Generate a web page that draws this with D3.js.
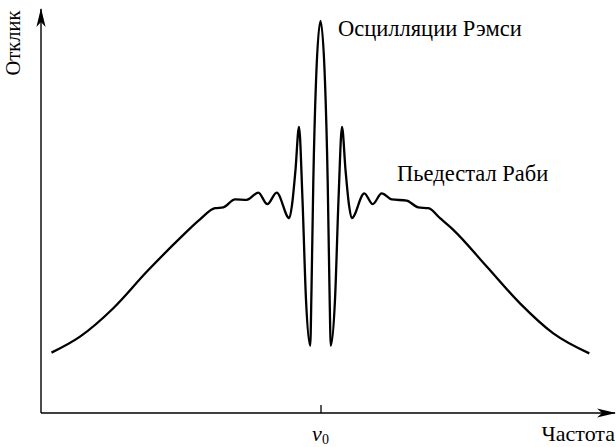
<!DOCTYPE html>
<html>
<head>
<meta charset="utf-8">
<script src="https://cdn.jsdelivr.net/npm/d3@7"></script>
<style>
  body { margin: 0; background: #fff; }
</style>
</head>
<body>
<div id="viz"></div>
<script>
const w = 616;
const h = 447;
const serif = '"Liberation Serif", "Times New Roman", Times, "DejaVu Serif", serif';

// detuning from nu0 (arbitrary units) and response
const detuning = [-2.69, -2.405, -2.072, -1.738, -1.405, -1.205, -1.055, -0.972, -0.855, -0.738,
  -0.622, -0.532, -0.438, -0.312, -0.285, -0.25, -0.215, -0.18, -0.145, -0.103,
  -0.09, -0.072, -0.045, 0, 0.045, 0.072, 0.09, 0.103,
  0.145, 0.18, 0.215, 0.25, 0.285, 0.312, 0.438, 0.522, 0.612, 0.712,
  0.862, 0.978, 1.078, 1.195, 1.328, 1.662, 1.995, 2.328, 2.688];
const response = [0.151, 0.191, 0.262, 0.353, 0.437, 0.484, 0.512, 0.514, 0.534, 0.533,
  0.551, 0.522, 0.551, 0.487, 0.52, 0.608, 0.715, 0.533, 0.283, 0.168,
  0.308, 0.578, 0.828, 0.98, 0.828, 0.578, 0.308, 0.168,
  0.283, 0.533, 0.715, 0.608, 0.52, 0.487, 0.549, 0.522, 0.549, 0.534,
  0.531, 0.514, 0.512, 0.487, 0.458, 0.366, 0.274, 0.199, 0.149];

const ticks = [0];
const labels = ['Осцилляции Рэмси', 'Пьедестал Раби'];

const svg = d3.select('#viz').append('svg')
    .attr('width', w)
    .attr('height', h)
    .style('font-family', serif)

const x = d3.scaleLinear().domain([-2.795, 2.945]).range([41, 615]);
const y = d3.scaleLinear().domain([0, 1]).range([413, 13]);

// arrow marker for the axes
svg.append('defs').append('marker')
    .attr('id', 'arrow')
    .attr('viewBox', '0 0 19 10')
    .attr('refX', 18)
    .attr('refY', 5)
    .attr('markerWidth', 19)
    .attr('markerHeight', 10)
    .attr('markerUnits', 'userSpaceOnUse')
    .attr('orient', 'auto')
    .append('path')
    .attr('d', 'M0,0.4L19,5L0,9.6L5,5Z')
    .attr('fill', '#000')

svg.append('line')
    .attr('x1', x.range()[0]).attr('y1', y.range()[0])
    .attr('x2', x.range()[1]).attr('y2', y.range()[0])
    .attr('stroke', '#000').attr('stroke-width', 1.4)
    .attr('marker-end', 'url(#arrow)')

svg.append('line')
    .attr('x1', x.range()[0]).attr('y1', y.range()[0])
    .attr('x2', x.range()[0]).attr('y2', 9)
    .attr('stroke', '#000').attr('stroke-width', 1.4)
    .attr('marker-end', 'url(#arrow)')

// single tick at nu0
const xAxis = svg.append('g')
    .attr('transform', `translate(0,${y.range()[0]})`)
    .call(d3.axisBottom(x).tickValues(ticks).tickSize(-8).tickFormat(''))
xAxis.select('.domain').remove()
xAxis.selectAll('.tick line').attr('stroke-width', 1.3)

const nu = svg.append('text')
    .attr('x', x(0))
    .attr('y', 441)
    .attr('text-anchor', 'middle')
    .attr('font-family', serif)
    .style('font-size', '22px')
nu.append('tspan').text('ν').style('font-style', 'italic')
nu.append('tspan').text('0').attr('dy', 3).style('font-size', '14px')

svg.append('text')
    .attr('x', 615)
    .attr('y', 441)
    .attr('text-anchor', 'end')
    .attr('font-family', serif)
    .style('font-size', '22px')
    .text('Частота')

svg.append('text')
    .attr('transform', 'translate(20,43) rotate(-90)')
    .attr('text-anchor', 'middle')
    .attr('font-family', serif)
    .style('font-size', '20.5px')
    .text('Отклик')

// curve
const line = d3.line()
    .x((d, i) => x(detuning[i]))
    .y(d => y(d))
    .curve(d3.curveMonotoneX)

svg.append('path')
    .attr('d', line(response))
    .attr('fill', 'none')
    .attr('stroke', '#000')
    .attr('stroke-width', 2.3)
    .attr('stroke-linejoin', 'round')

svg.append('text')
    .attr('x', 338)
    .attr('y', 36)
    .attr('font-family', serif)
    .style('font-size', '22.5px')
    .text(labels[0])

svg.append('text')
    .attr('x', 397)
    .attr('y', 181)
    .attr('font-family', serif)
    .style('font-size', '22.5px')
    .text(labels[1])
</script>
</body>
</html>
